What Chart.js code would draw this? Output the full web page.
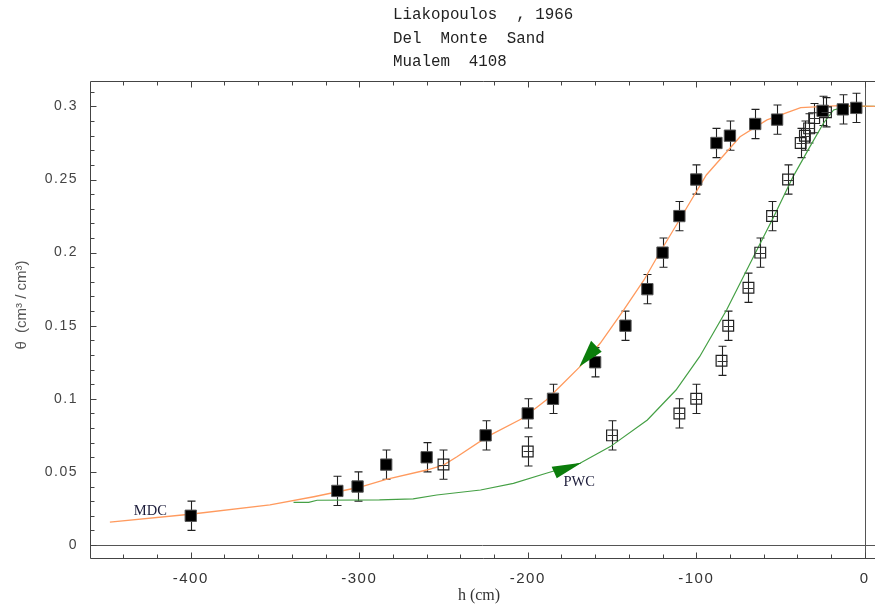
<!DOCTYPE html>
<html>
<head>
<meta charset="utf-8">
<script src="https://cdn.jsdelivr.net/npm/chart.js@4.4.1/dist/chart.umd.min.js"></script>
<style>
html,body{margin:0;padding:0;background:#fff;}
#c{display:block;}
</style>
</head>
<body>
<canvas id="c" width="875" height="608"></canvas>
<script>
// ---- Data ----
const titleLines = ["Liakopoulos  , 1966", "Del  Monte  Sand", "Mualem  4108"];

// Drying (MDC) measured points (filled squares)
const dryH     = [-400, -313, -301, -284, -260, -225, -200, -185, -160, -142, -129, -120, -110, -100, -88, -80, -65, -52, -25, -13, -5];
const dryTheta = [0.020, 0.037, 0.040, 0.055, 0.060, 0.075, 0.090, 0.100, 0.125, 0.150, 0.175, 0.200, 0.225, 0.250, 0.275, 0.280, 0.288, 0.291, 0.297, 0.298, 0.299];

// Wetting (PWC) measured points (open squares)
const wetH     = [-250, -200, -150, -110, -100, -85, -81, -69, -62, -55, -45.5, -38, -35.5, -33, -30, -23];
const wetTheta = [0.055, 0.064, 0.075, 0.090, 0.100, 0.126, 0.150, 0.176, 0.200, 0.225, 0.250, 0.275, 0.280, 0.285, 0.292, 0.296];

// error bar half-width (theta)
const thetaError = 0.01;

// Main drying curve (orange)
const mdcH     = [-448, -399, -353, -327, -300, -284, -260, -250, -242, -224, -203, -189, -181, -169, -157, -143, -131, -122.5, -110, -94, -74, -58, -38, -15, 6];
const mdcTheta = [0.0157, 0.0212, 0.0274, 0.0330, 0.0395, 0.0449, 0.0513, 0.0547, 0.0604, 0.0741, 0.0867, 0.0992, 0.1083, 0.1220, 0.1380, 0.1608, 0.1813, 0.1984, 0.2223, 0.2531, 0.2793, 0.2908, 0.2992, 0.3005, 0.3000];

// Primary wetting curve (green)
const pwcH     = [-339, -330, -325, -288, -268, -254, -228, -208.5, -189, -169, -151, -129, -112, -98, -82, -64, -54, -42.5, -32.5, -24.5, -18.5, -10.5, 6];
const pwcTheta = [0.0292, 0.0292, 0.0306, 0.0308, 0.0315, 0.0342, 0.0376, 0.0422, 0.0491, 0.0559, 0.0673, 0.0855, 0.1060, 0.1288, 0.1608, 0.2018, 0.2246, 0.2520, 0.2725, 0.2885, 0.2976, 0.3000, 0.3000];

// Direction arrows (triangle vertices, data units)
const mdcArrowH     = [-169.4, -162.4, -156.1];
const mdcArrowTheta = [0.1220, 0.1398, 0.1322];
const pwcArrowH     = [-182.8, -185.8, -168.0];
const pwcArrowTheta = [0.0456, 0.0536, 0.0563];

// Curve labels
const curveLabels = ["MDC", "PWC"];
const labelH      = [-424, -169.5];
const labelTheta  = [0.0233, 0.0431];

// Axes
const xTickValues = [-400, -300, -200, -100, 0];
const xTickLabels = ["-400", "-300", "-200", "-100", "0"];
const yTickValues = [0, 0.05, 0.1, 0.15, 0.2, 0.25, 0.3];
const yTickLabels = ["0", "0.05", "0.1", "0.15", "0.2", "0.25", "0.3"];
const xMinorStep = 20, yMinorStep = 0.01;
const xTitle = "h (cm)";
const yTitle = "\u03B8  (cm\u00B3 / cm\u00B3)";

const toXY = (xs, ys) => xs.map((x, i) => ({x: x, y: ys[i]}));

const refPlugin = {
  id: 'ref',
  beforeDraw(chart) {
    const ctx = chart.ctx;
    ctx.save();
    ctx.fillStyle = '#fff';
    ctx.fillRect(0, 0, chart.width, chart.height);
    ctx.restore();
    ctx.letterSpacing = '1.5px';
  },
  beforeDatasetsDraw(chart) {
    const ctx = chart.ctx, xs = chart.scales.x, ys = chart.scales.y, a = chart.chartArea;
    ctx.save();
    ctx.letterSpacing = '0px';
    // axes through origin
    ctx.strokeStyle = '#555';
    ctx.lineWidth = 1;
    const y0 = Math.round(ys.getPixelForValue(0)) + 0.5;
    const x0 = Math.round(xs.getPixelForValue(0)) + 0.5;
    ctx.beginPath();
    ctx.moveTo(a.left, y0); ctx.lineTo(a.right, y0);
    ctx.moveTo(x0, a.top); ctx.lineTo(x0, a.bottom);
    ctx.stroke();
    // error bars
    ctx.strokeStyle = '#222';
    ctx.lineWidth = 1.1;
    const bars = (H, T) => {
      H.forEach((h, i) => {
        const px = Math.round(xs.getPixelForValue(h)) + 0.5;
        const pt = ys.getPixelForValue(T[i] + thetaError);
        const pb = ys.getPixelForValue(T[i] - thetaError);
        ctx.beginPath();
        ctx.moveTo(px, pt); ctx.lineTo(px, pb);
        ctx.moveTo(px - 4, pt); ctx.lineTo(px + 4, pt);
        ctx.moveTo(px - 4, pb); ctx.lineTo(px + 4, pb);
        ctx.stroke();
      });
    };
    bars(dryH, dryTheta);
    bars(wetH, wetTheta);
    ctx.restore();
  },
  afterDatasetsDraw(chart) {
    const ctx = chart.ctx, xs = chart.scales.x, ys = chart.scales.y;
    ctx.save();
    ctx.letterSpacing = '0px';
    // crossbar inside open squares
    ctx.strokeStyle = '#333';
    ctx.lineWidth = 1;
    wetH.forEach((h, i) => {
      const px = Math.round(xs.getPixelForValue(h)) + 0.5;
      const py = Math.round(ys.getPixelForValue(wetTheta[i])) + 0.5;
      ctx.beginPath();
      ctx.moveTo(px - 5, py); ctx.lineTo(px + 5, py);
      ctx.stroke();
    });
    // arrows
    ctx.fillStyle = '#0b7d0b';
    const tri = (H, T) => {
      ctx.beginPath();
      H.forEach((h, i) => {
        const px = xs.getPixelForValue(h), py = ys.getPixelForValue(T[i]);
        if (i === 0) ctx.moveTo(px, py); else ctx.lineTo(px, py);
      });
      ctx.closePath();
      ctx.fill();
    };
    tri(mdcArrowH, mdcArrowTheta);
    tri(pwcArrowH, pwcArrowTheta);
    // curve labels
    ctx.fillStyle = '#1c1c3a';
    ctx.font = '14.5px "Liberation Serif", "DejaVu Serif", serif';
    ctx.textAlign = 'center';
    ctx.textBaseline = 'middle';
    curveLabels.forEach((t, i) => {
      ctx.fillText(t, xs.getPixelForValue(labelH[i]), ys.getPixelForValue(labelTheta[i]));
    });
    ctx.restore();
  },
  afterDraw(chart) {
    const ctx = chart.ctx, xs = chart.scales.x, ys = chart.scales.y, a = chart.chartArea;
    ctx.save();
    ctx.letterSpacing = '0px';
    // frame (right edge lies outside the picture)
    ctx.strokeStyle = '#444';
    ctx.lineWidth = 1;
    const L = Math.round(a.left) + 0.5, T = Math.round(a.top) + 0.5, B = Math.round(a.bottom) + 0.5;
    ctx.beginPath();
    ctx.moveTo(L, B); ctx.lineTo(L, T); ctx.lineTo(chart.width + 2, T);
    ctx.moveTo(L, B); ctx.lineTo(chart.width + 2, B);
    ctx.stroke();
    // frame ticks
    ctx.beginPath();
    for (let v = -440; v <= 0.001; v += xMinorStep) {
      const px = Math.round(xs.getPixelForValue(v)) + 0.5;
      const len = (Math.abs(v % 100) < 0.001) ? 6 : 4;
      ctx.moveTo(px, B); ctx.lineTo(px, B - len);
      ctx.moveTo(px, T); ctx.lineTo(px, T + len);
    }
    for (let k = 0; k <= 31; k++) {
      const v = k * yMinorStep;
      const py = Math.round(ys.getPixelForValue(v)) + 0.5;
      const len = (k % 5 === 0) ? 6 : 4;
      ctx.moveTo(L, py); ctx.lineTo(L + len, py);
    }
    ctx.stroke();
    // title lines
    ctx.fillStyle = '#222';
    ctx.font = '15.8px "Liberation Mono", "DejaVu Sans Mono", monospace';
    ctx.textAlign = 'left';
    ctx.textBaseline = 'alphabetic';
    titleLines.forEach((t, i) => ctx.fillText(t, 393, 19 + i * 23.5));
    // x title
    ctx.fillStyle = '#333';
    ctx.font = '16px "Liberation Serif", "DejaVu Serif", serif';
    ctx.textAlign = 'center';
    ctx.fillText(xTitle, 479, 600);
    // y title
    ctx.save();
    ctx.translate(22, 305);
    ctx.rotate(-Math.PI / 2);
    ctx.fillStyle = '#555';
    ctx.font = '15px "Liberation Sans", "DejaVu Sans", sans-serif';
    ctx.textAlign = 'center';
    ctx.textBaseline = 'middle';
    ctx.fillText(yTitle, 0, 0);
    ctx.restore();
    ctx.restore();
  }
};

new Chart(document.getElementById('c').getContext('2d'), {
  type: 'scatter',
  data: {
    datasets: [
      {
        label: 'drying data',
        data: toXY(dryH, dryTheta),
        pointStyle: 'rect',
        pointRadius: 8,
        backgroundColor: '#000',
        borderColor: '#555',
        borderWidth: 1,
        showLine: false
      },
      {
        label: 'wetting data',
        data: toXY(wetH, wetTheta),
        pointStyle: 'rect',
        pointRadius: 7.6,
        backgroundColor: 'rgba(0,0,0,0)',
        borderColor: '#222',
        borderWidth: 1.2,
        showLine: false
      },
      {
        label: 'MDC',
        data: toXY(mdcH, mdcTheta),
        showLine: true,
        pointRadius: 0,
        borderColor: '#ff9a5e',
        borderWidth: 1.3,
        tension: 0,
        fill: false
      },
      {
        label: 'PWC',
        data: toXY(pwcH, pwcTheta),
        showLine: true,
        pointRadius: 0,
        borderColor: '#45a045',
        borderWidth: 1.2,
        tension: 0,
        fill: false
      }
    ]
  },
  options: {
    responsive: false,
    animation: false,
    devicePixelRatio: 1,
    layout: { autoPadding: false, padding: { left: 0, right: 0, top: 81, bottom: 0 } },
    plugins: { legend: { display: false }, tooltip: { enabled: false }, title: { display: false } },
    scales: {
      x: {
        type: 'linear',
        bounds: 'data',
        min: -459.8,
        max: 6.1,
        afterFit(s) { s.height = 49.7; s.paddingLeft = 0; s.paddingRight = 0; },
        afterBuildTicks(s) { s.ticks = xTickValues.map(v => ({value: v})); },
        grid: { display: false, drawTicks: false },
        border: { display: false },
        ticks: {
          includeBounds: false,
          maxRotation: 0,
          autoSkip: false,
          padding: 12,
          color: '#333',
          font: { family: '"Liberation Sans", "DejaVu Sans", sans-serif', size: 15 },
          callback: (v, i) => xTickLabels[i]
        }
      },
      y: {
        type: 'linear',
        bounds: 'data',
        min: -0.0091,
        max: 0.3174,
        afterFit(s) { s.width = 90; s.paddingTop = 0; s.paddingBottom = 0; },
        afterBuildTicks(s) { s.ticks = yTickValues.map(v => ({value: v})); },
        grid: { display: false, drawTicks: false },
        border: { display: false },
        ticks: {
          includeBounds: false,
          autoSkip: false,
          padding: 12,
          color: '#444',
          font: { family: '"Liberation Sans", "DejaVu Sans", sans-serif', size: 14 },
          callback: (v, i) => yTickLabels[i]
        }
      }
    }
  },
  plugins: [refPlugin]
});
</script>
</body>
</html>
